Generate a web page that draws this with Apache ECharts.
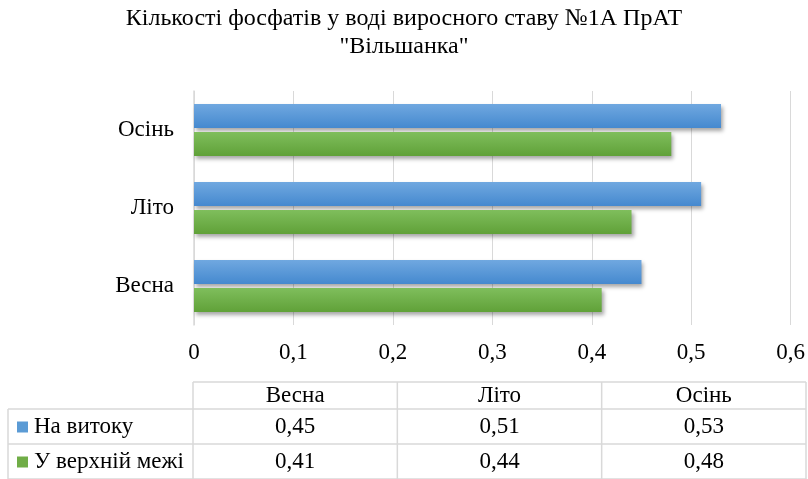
<!DOCTYPE html>
<html><head><meta charset="utf-8">
<script src="https://cdn.jsdelivr.net/npm/echarts@6/dist/echarts.min.js"></script>
<style>html,body{margin:0;padding:0;background:#fff}#c{width:808px;height:479px}</style>
</head><body><div id="c"></div>
<script>
const titleText = 'Кількості фосфатів у воді виросного ставу №1А ПрАТ\n"Вільшанка"';
const categories = ['Весна', 'Літо', 'Осінь'];
const seriesNames = ['На витоку', 'У верхній межі'];
const valuesSource = [0.45, 0.51, 0.53];
const valuesUpper = [0.41, 0.44, 0.48];
const xTicks = [0, 0.1, 0.2, 0.3, 0.4, 0.5, 0.6];

const FONT = '"Liberation Serif", "Times New Roman", serif';
const blueGrad = new echarts.graphic.LinearGradient(0,0,0,1,[{offset:0,color:'#70a8e0'},{offset:1,color:'#4589cf'}]);
const greenGrad = new echarts.graphic.LinearGradient(0,0,0,1,[{offset:0,color:'#7fbe5c'},{offset:1,color:'#60a138'}]);
const blueSolid = '#5b9bd5', greenSolid = '#70ad47';

const fmt = v => String(v).replace('.', ',');

// table geometry
const tX0 = 8, tX1 = 193, tX2 = 806, tY0 = 382, tY1 = 409, tY2 = 444, tY3 = 479;
const colW = (tX2 - tX1) / categories.length;
const lineStyle = {stroke:'#d9d9d9', lineWidth:1.5};
const graphics = [];
graphics.push({type:'line', shape:{x1:tX1,y1:tY0,x2:tX2,y2:tY0}, style:lineStyle});
[tY1, tY2, tY3].forEach(y => graphics.push({type:'line', shape:{x1:tX0,y1:y,x2:tX2,y2:y}, style:lineStyle}));
graphics.push({type:'line', shape:{x1:tX0,y1:tY1,x2:tX0,y2:tY3}, style:lineStyle});
for (let i = 0; i <= categories.length; i++) {
  const x = tX1 + i*colW;
  graphics.push({type:'line', shape:{x1:x,y1:tY0,x2:x,y2:tY3}, style:lineStyle});
}
const TFS = 23;
const txt = (x, y, s, align) => ({type:'text', x, y, style:{text:s, font:TFS + 'px ' + FONT, fill:'#000', textAlign:align||'center', textVerticalAlign:'middle'}});
categories.forEach((c, i) => graphics.push(txt(tX1 + (i+0.5)*colW, (tY0+tY1)/2, c)));
const rows = [[seriesNames[0], valuesSource, blueSolid], [seriesNames[1], valuesUpper, greenSolid]];
const rowYs = [(tY1+tY2)/2, (tY2+tY3)/2];
rows.forEach((r, ri) => {
  const y = rowYs[ri];
  graphics.push({type:'rect', shape:{x:17,y:y-5,width:11,height:11}, style:{fill:r[2]}});
  graphics.push(txt(34, y, r[0], 'left'));
  r[1].forEach((v, i) => graphics.push(txt(tX1 + (i+0.5)*colW, y, fmt(v))));
});

const chart = echarts.init(document.getElementById('c'));
chart.setOption({
  backgroundColor:'#fff',
  animation:false,
  title:{text:titleText, left:'center', top:0, textStyle:{fontFamily:FONT, fontWeight:'normal', fontSize:24, lineHeight:28, color:'#000'}},
  grid:{left:194, right:16, top:91, bottom:154},
  xAxis:{type:'value', min:0, max:0.6, interval:0.1,
    axisLine:{show:false}, axisTick:{show:false},
    splitLine:{lineStyle:{color:'#d9d9d9', width:1}},
    axisLabel:{margin:16, fontFamily:FONT, fontSize:23, color:'#000', formatter: v => fmt(+v.toFixed(1))}},
  yAxis:{type:'category', data:categories,
    axisLine:{show:true, lineStyle:{color:'#d9d9d9', width:1.5}}, axisTick:{show:false},
    axisLabel:{margin:20, fontFamily:FONT, fontSize:23, color:'#000'}},
  series:[
    {name:seriesNames[0], type:'bar', data:valuesSource, barWidth:24, barGap:'17%',
      itemStyle:{color:blueGrad, shadowBlur:4, shadowOffsetX:2, shadowOffsetY:3, shadowColor:'rgba(0,0,0,0.35)'}},
    {name:seriesNames[1], type:'bar', data:valuesUpper, barWidth:24, barGap:'17%',
      itemStyle:{color:greenGrad, shadowBlur:4, shadowOffsetX:2, shadowOffsetY:3, shadowColor:'rgba(0,0,0,0.35)'}}
  ],
  graphic: graphics
});
</script></body></html>
